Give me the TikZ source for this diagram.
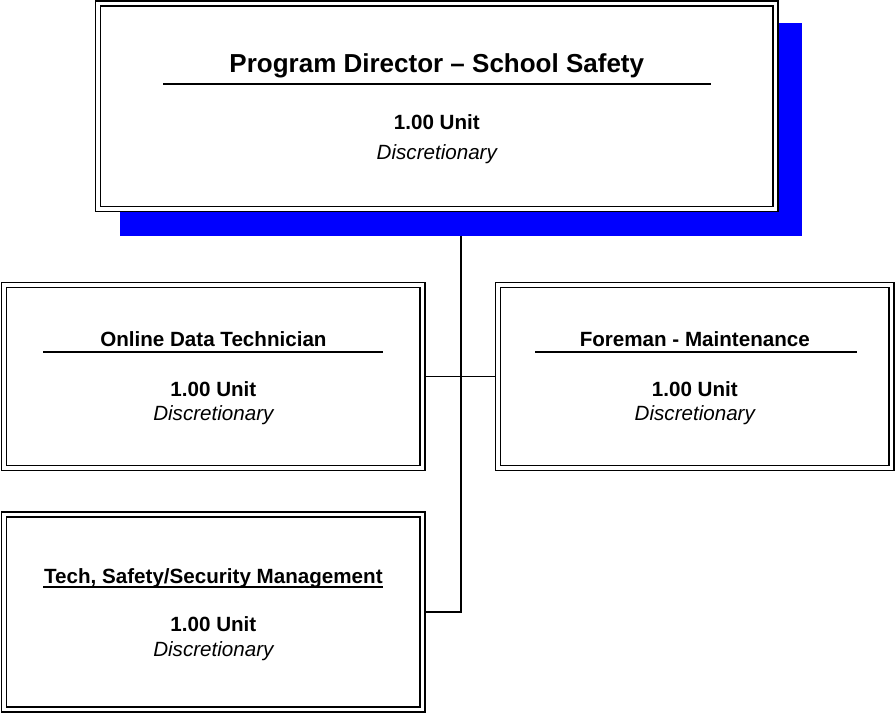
\documentclass[tikz,border=0pt]{standalone}
\usepackage{fontspec}
\setmainfont{Liberation Sans}
\tikzset{
  post/.style={draw, fill=white, double, line width=1.8pt, double distance=3.2pt, outer sep=3.4pt, inner sep=0pt},
  link/.style={line width=1.5pt},
  rule/.style={line width=2pt},
  headtext/.style={anchor=base, inner sep=0pt, font=\fontsize{26}{30}\selectfont\bfseries},
  unittext/.style={anchor=base, inner sep=0pt, font=\fontsize{20.6}{24}\selectfont\bfseries},
  notetext/.style={anchor=base, inner sep=0pt, font=\fontsize{20.6}{24}\selectfont\itshape}
}
\begin{document}
\begin{tikzpicture}[x=1pt,y=-1pt]
    \useasboundingbox (0,0) rectangle (896,713);
    \node[fill=blue, inner sep=0pt, minimum width=682pt, minimum height=213pt] (shadow) at (461,129.5) {};
    \node[post, minimum width=677.5pt, minimum height=205.6pt] (director) at (436.8,106.2) {};
    \node[post, minimum width=418.7pt, minimum height=183pt] (online) at (213.4,376.5) {};
    \node[post, minimum width=393.5pt, minimum height=183pt] (foreman) at (694.8,376.5) {};
    \node[post, minimum width=418.7pt, minimum height=194.8pt] (tech) at (213.4,612) {};
    % connectors
    \draw[link] (shadow.south) -- (shadow.south |- tech.east) -- (tech.east);
    \draw[link] (online.east) -- (foreman.west);
    % director
    \node[headtext] (directorT) at (436.8,72.7) {Program Director – School Safety};
    \draw[rule] (163,84) -- (711,84);
    \node[unittext] (directorU) at (436.8,129) {1.00 Unit};
    \node[notetext] (directorD) at (436.8,159.5) {Discretionary};
    % online data technician
    \node[unittext] (onlineT) at (213.4,346) {Online Data Technician};
    \draw[rule] (43,352.3) -- (383,352.3);
    \node[unittext] (onlineU) at (213.4,396.5) {1.00 Unit};
    \node[notetext] (onlineD) at (213.4,420) {Discretionary};
    % foreman
    \node[unittext] (foremanT) at (694.8,346) {Foreman - Maintenance};
    \draw[rule] (535,352.3) -- (857,352.3);
    \node[unittext] (foremanU) at (694.8,396.5) {1.00 Unit};
    \node[notetext] (foremanD) at (694.8,420) {Discretionary};
    % tech, safety/security
    \node[unittext] (techT) at (213.4,583.5) {Tech, Safety/Security Management};
    \draw[rule] (43,587.3) -- (383,587.3);
    \node[unittext] (techU) at (213.4,631.5) {1.00 Unit};
    \node[notetext] (techD) at (213.4,656) {Discretionary};
\end{tikzpicture}
\end{document}
